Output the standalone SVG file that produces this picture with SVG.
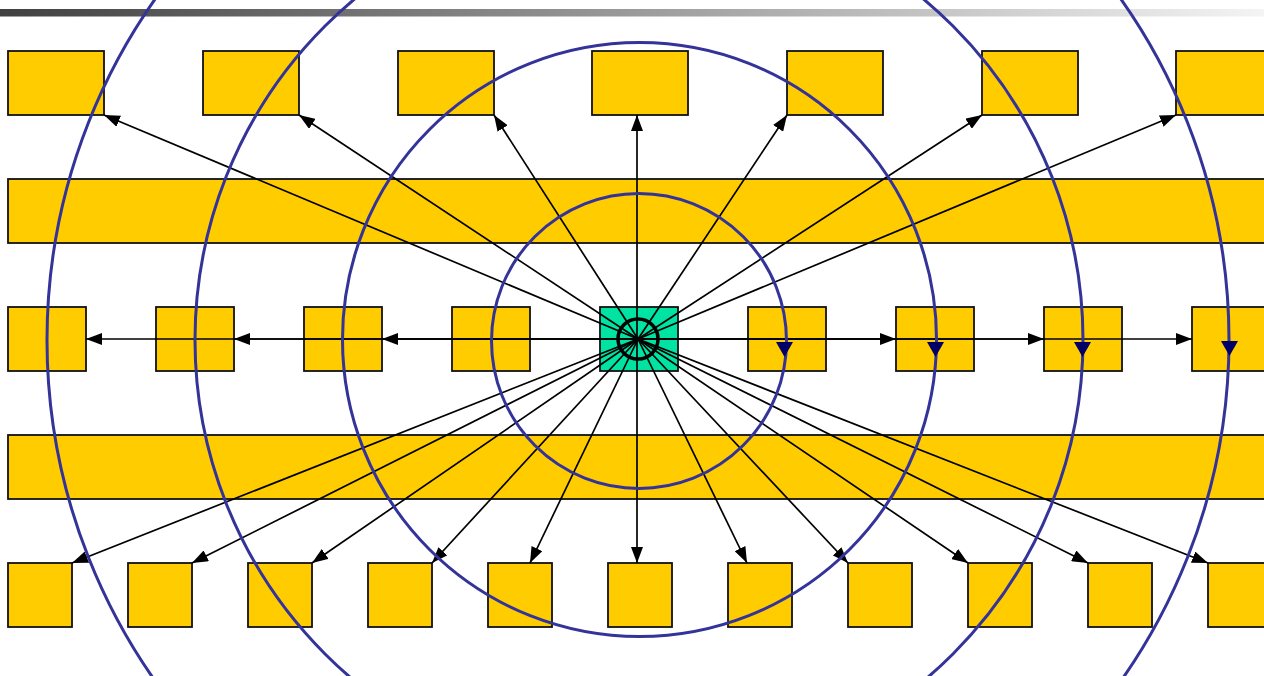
<svg xmlns="http://www.w3.org/2000/svg" width="1264" height="676" viewBox="0 0 1264 676">
<defs>
<linearGradient id="bar" x1="0" y1="0" x2="1" y2="0">
<stop offset="0" stop-color="#404040"/>
<stop offset="1" stop-color="#f4f4f4"/>
</linearGradient>
<marker id="ah" markerUnits="userSpaceOnUse" markerWidth="16" markerHeight="12" viewBox="0 0 16 12" refX="16" refY="6" orient="auto">
<path d="M0,0 L16,6 L0,12 z" fill="#000"/>
</marker>
<style>
.n{fill:#FFCC00;stroke:#111;stroke-width:1.8}
.c{fill:#00E3A3;stroke:#111;stroke-width:1.8}
.a{stroke:#000;stroke-width:1.7;fill:none;marker-end:url(#ah)}
.r{fill:none;stroke:#333399;stroke-width:3}
.h{fill:#000066}
</style>
</defs>
<rect width="1264" height="676" fill="#fff"/>
<rect x="0" y="9" width="1264" height="7.5" fill="url(#bar)"/>
<g id="nodes">
<g id="t1"><rect class="n" x="8" y="51" width="96" height="64"/></g>
<g id="t2"><rect class="n" x="203" y="51" width="96" height="64"/></g>
<g id="t3"><rect class="n" x="398" y="51" width="96" height="64"/></g>
<g id="t4"><rect class="n" x="592" y="51" width="96" height="64"/></g>
<g id="t5"><rect class="n" x="787" y="51" width="96" height="64"/></g>
<g id="t6"><rect class="n" x="982" y="51" width="96" height="64"/></g>
<g id="t7"><rect class="n" x="1176" y="51" width="96" height="64"/></g>
<g id="band1"><rect class="n" x="8" y="179" width="1264" height="64"/></g>
<g id="band2"><rect class="n" x="8" y="435" width="1264" height="64"/></g>
<g id="m1"><rect class="n" x="8" y="307" width="78" height="64"/></g>
<g id="m2"><rect class="n" x="156" y="307" width="78" height="64"/></g>
<g id="m3"><rect class="n" x="304" y="307" width="78" height="64"/></g>
<g id="m4"><rect class="n" x="452" y="307" width="78" height="64"/></g>
<g id="m6"><rect class="n" x="748" y="307" width="78" height="64"/></g>
<g id="m7"><rect class="n" x="896" y="307" width="78" height="64"/></g>
<g id="m8"><rect class="n" x="1044" y="307" width="78" height="64"/></g>
<g id="m9"><rect class="n" x="1192" y="307" width="78" height="64"/></g>
<g id="b1"><rect class="n" x="8" y="563" width="64" height="64"/></g>
<g id="b2"><rect class="n" x="128" y="563" width="64" height="64"/></g>
<g id="b3"><rect class="n" x="248" y="563" width="64" height="64"/></g>
<g id="b4"><rect class="n" x="368" y="563" width="64" height="64"/></g>
<g id="b5"><rect class="n" x="488" y="563" width="64" height="64"/></g>
<g id="b6"><rect class="n" x="608" y="563" width="64" height="64"/></g>
<g id="b7"><rect class="n" x="728" y="563" width="64" height="64"/></g>
<g id="b8"><rect class="n" x="848" y="563" width="64" height="64"/></g>
<g id="b9"><rect class="n" x="968" y="563" width="64" height="64"/></g>
<g id="b10"><rect class="n" x="1088" y="563" width="64" height="64"/></g>
<g id="b11"><rect class="n" x="1208" y="563" width="64" height="64"/></g>
<g id="center"><rect class="c" x="600" y="307" width="78" height="64"/></g>
</g>
<g id="connectors">
<line class="a" x1="638" y1="339" x2="104" y2="115"/>
<line class="a" x1="638" y1="339" x2="299" y2="115"/>
<line class="a" x1="638" y1="339" x2="494" y2="115"/>
<line class="a" x1="637" y1="339" x2="637" y2="115"/>
<line class="a" x1="638" y1="339" x2="787" y2="115"/>
<line class="a" x1="638" y1="339" x2="982" y2="115"/>
<line class="a" x1="638" y1="339" x2="1176" y2="115"/>
<line class="a" x1="638" y1="339" x2="86" y2="339"/>
<line class="a" x1="638" y1="339" x2="234" y2="339"/>
<line class="a" x1="638" y1="339" x2="382" y2="339"/>
<line class="a" x1="638" y1="339" x2="896" y2="339"/>
<line class="a" x1="638" y1="339" x2="1044" y2="339"/>
<line class="a" x1="638" y1="339" x2="1192" y2="339"/>
<line class="a" x1="638" y1="339" x2="72" y2="563"/>
<line class="a" x1="638" y1="339" x2="192" y2="563"/>
<line class="a" x1="638" y1="339" x2="312" y2="563"/>
<line class="a" x1="638" y1="339" x2="432" y2="563"/>
<line class="a" x1="638" y1="339" x2="530" y2="563"/>
<line class="a" x1="637" y1="339" x2="637" y2="563"/>
<line class="a" x1="638" y1="339" x2="747" y2="563"/>
<line class="a" x1="638" y1="339" x2="848" y2="563"/>
<line class="a" x1="638" y1="339" x2="968" y2="563"/>
<line class="a" x1="638" y1="339" x2="1088" y2="563"/>
<line class="a" x1="638" y1="339" x2="1208" y2="563"/>
</g>
<g id="rings">
<circle class="r" cx="639" cy="341" r="147.5"/>
<circle class="r" cx="639.5" cy="339.5" r="297"/>
<circle class="r" cx="639" cy="340" r="444"/>
<circle class="r" cx="638" cy="340" r="591"/>
<polygon class="h" points="776,342 793,342 784.5,357"/>
<polygon class="h" points="927,342 944,342 935.5,357"/>
<polygon class="h" points="1074,342 1091,342 1082.5,357"/>
<polygon class="h" points="1221,341 1238,341 1229.5,356"/>
</g>
<g id="hub"><circle cx="638" cy="339" r="20" fill="none" stroke="#000" stroke-width="3.5"/></g>
</svg>
